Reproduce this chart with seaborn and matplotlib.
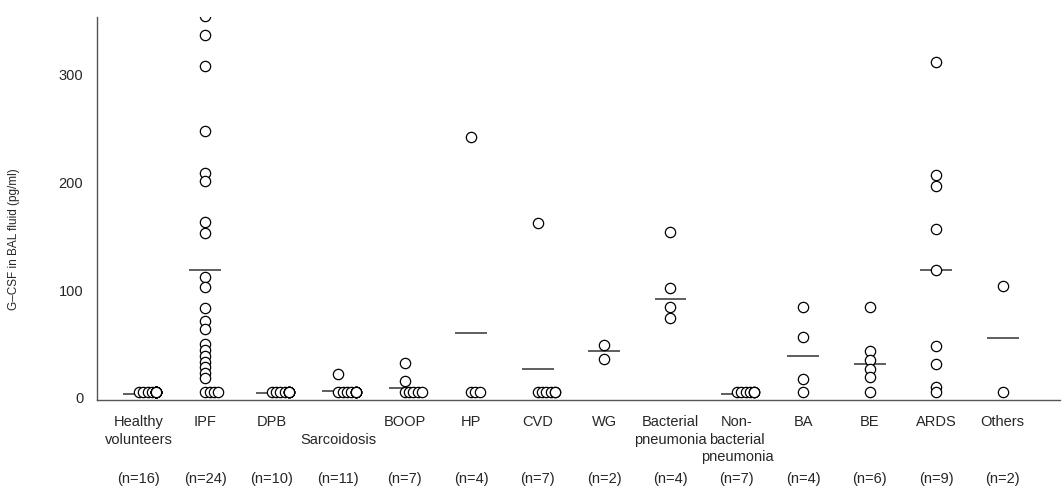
import numpy as np
import pandas as pd
import matplotlib
matplotlib.use("Agg")
import matplotlib.pyplot as plt
import seaborn as sns

groups = ["Healthy\nvolunteers", "IPF", "DPB", "\nSarcoidosis", "BOOP", "HP", "CVD", "WG",
          "Bacterial\npneumonia", "Non-\nbacterial\npneumonia", "BA", "BE", "ARDS", "Others"]
n_labels = ["(n=16)", "(n=24)", "(n=10)", "(n=11)", "(n=7)", "(n=4)", "(n=7)", "(n=2)",
            "(n=4)", "(n=7)", "(n=4)", "(n=6)", "(n=9)", "(n=2)"]

healthy = [5] * 16
ipf = [355, 337, 308, 248, 209, 201, 163, 153, 112, 103, 83, 71, 64,
       50, 44, 39, 33, 28, 23, 18, 5, 5, 5, 5]
dpb = [5] * 10
sarcoidosis = [22] + [5] * 10
boop = [32, 15, 5, 5, 5, 5, 5]
hp = [242, 5, 5, 5]
cvd = [162, 5, 5, 5, 5, 5, 5]
wg = [49, 36]
bacterial = [154, 102, 84, 74]
nonbacterial = [5] * 7
ba = [84, 56, 17, 5]
be = [84, 43, 35, 27, 19, 5]
ards = [312, 207, 197, 157, 119, 48, 31, 10, 5]
others = [104, 5]

mean_vals = [3.5, 119, 4, 6, 9, 60, 27, 43, 92, 3, 39, 31, 119, 55]

values = [healthy, ipf, dpb, sarcoidosis, boop, hp, cvd, wg, bacterial,
          nonbacterial, ba, be, ards, others]

rows = []
for i, vals in enumerate(values):
    seen = {}
    for v in vals:
        k = seen.get(v, 0)
        seen[v] = k + 1
        # tied values are shifted sideways like the original
        rows.append({"group": i, "value": v, "xpos": i + 0.065 * min(k, 4)})
df = pd.DataFrame(rows)

sns.set_style("white")
plt.rcParams["font.family"] = ["Liberation Sans", "DejaVu Sans"]

fig = plt.figure(figsize=(10.63, 4.9), dpi=100)
ax = fig.add_axes([0.0913, 0.1837, 0.9057, 0.7822])

sns.scatterplot(data=df, x="xpos", y="value", ax=ax, s=55, marker="o",
                facecolor="white", edgecolor="black", linewidth=0.9, zorder=3)

idx = np.arange(len(groups))
ax.hlines(mean_vals, idx - 0.24, idx + 0.24, color="#333333", linewidth=1.1, zorder=2)

ax.set_xlim(-0.63, 13.86)
ax.set_ylim(-2.2, 354)
ax.set_xticks(idx)
ax.set_xticklabels(groups, fontsize=10.5, linespacing=1.3)
ax.set_yticks([0, 100, 200, 300])
ax.set_yticklabels(["0", "100", "200", "300"], fontsize=10.5)
ax.tick_params(axis="x", length=0, pad=11)
ax.tick_params(axis="y", direction="in", length=9, width=1, color="#555555", pad=10)
ax.yaxis.get_major_ticks()[0].tick1line.set_visible(False)

ax.set_xlabel("")
ax.set_ylabel("G\u2013CSF in BAL fluid (pg/ml)", fontsize=8.5)
ax.yaxis.set_label_coords(-0.08, 0.42)

for s in ["top", "right"]:
    ax.spines[s].set_visible(False)
for s in ["left", "bottom"]:
    ax.spines[s].set_color("#555555")
    ax.spines[s].set_linewidth(1)

for i, lab in enumerate(n_labels):
    ax.text(i, -0.205, lab, transform=ax.get_xaxis_transform(),
            ha="center", va="center", fontsize=10.5)

fig.savefig("out.png", dpi=100)
